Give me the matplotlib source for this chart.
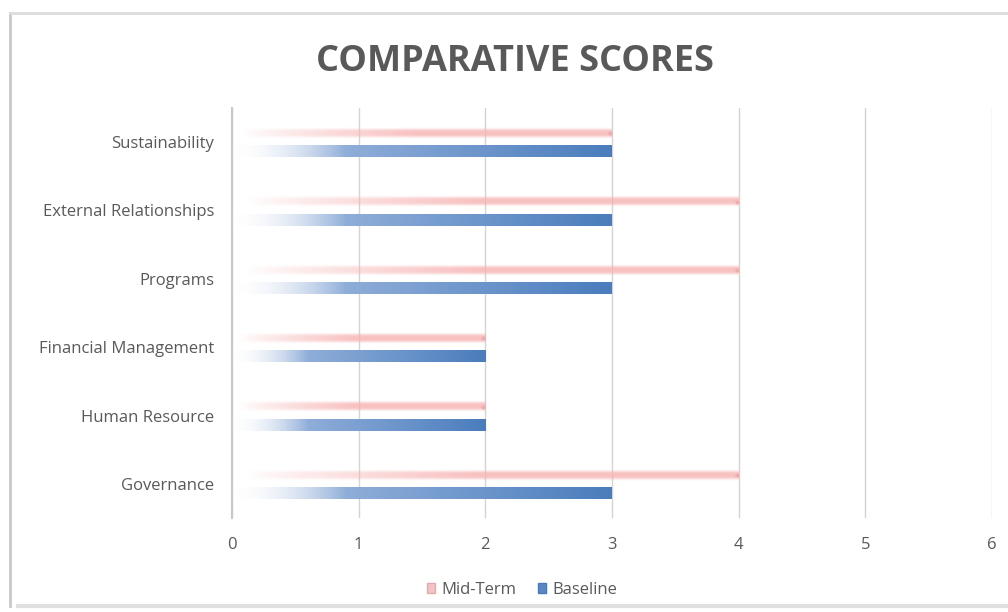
import numpy as np
import matplotlib
matplotlib.use('Agg')
import matplotlib.pyplot as plt
from matplotlib.patches import Patch
from matplotlib.lines import Line2D

plt.rcParams['font.family'] = ['Open Sans', 'DejaVu Sans']

categorias = ['Governance', 'Human Resource', 'Financial Management',
              'Programs', 'External Relationships', 'Sustainability']
midTerm = [4, 2, 2, 4, 4, 3]
baseline = [3, 2, 2, 3, 3, 3]
ticksX = [0, 1, 2, 3, 4, 5, 6]

corTexto = '#595959'
azulFim = np.array([0.29, 0.49, 0.74])
azulMeio = np.array([0.56, 0.68, 0.85])
rosa = np.array([0.97, 0.70, 0.70])


def barra_azul(ax, y, valor, altura):
    n = 300
    t = np.linspace(0, 1, n)
    cor = np.zeros((1, n, 4))
    for k in range(3):
        cor[0, :, k] = np.where(t < 0.3, 1 - (1 - azulMeio[k]) * t / 0.3,
                                azulMeio[k] + (azulFim[k] - azulMeio[k]) * (t - 0.3) / 0.7)
    cor[0, :, 3] = np.clip(t / 0.3, 0, 1) * 0.95 + 0.05
    ax.imshow(cor, extent=(0, valor, y + altura / 2, y - altura / 2),
              aspect='auto', interpolation='bilinear', zorder=3)


def barra_rosa(ax, y, valor, altura):
    n, m = 300, 40
    t = np.linspace(0, 1, n)
    v = np.linspace(-1, 1, m)
    perfil = np.exp(-(v / 0.6) ** 4)
    ramp = np.clip((t - 0.03) / 0.45, 0, 1) ** 0.8
    cor = np.zeros((m, n, 4))
    cor[:, :, 0] = rosa[0]
    cor[:, :, 1] = rosa[1]
    cor[:, :, 2] = rosa[2]
    cor[:, :, 3] = np.outer(perfil, ramp) * 0.8
    ax.imshow(cor, extent=(0, valor, y + altura / 2, y - altura / 2),
              aspect='auto', interpolation='bilinear', zorder=3)
    ax.plot([valor - 0.015], [y], marker='o', ms=3, color='#e9aaaa', mec='none',
            alpha=0.8, zorder=4)


fig = plt.figure(figsize=(10.08, 6.12), dpi=100)
ax = fig.add_axes([232 / 1008, 1 - 518 / 612, 760 / 1008, 410 / 612])

posicoes = np.arange(len(categorias))
for i in posicoes:
    barra_rosa(ax, i + 0.13, midTerm[i], 0.2)
    barra_azul(ax, i - 0.14, baseline[i], 0.165)

ax.set_xlim(0, 6)
ax.set_ylim(-0.5, len(categorias) - 0.5)
ax.set_xticks(ticksX)
ax.set_yticks(posicoes)
ax.set_yticklabels(categorias)
ax.tick_params(length=0, colors=corTexto, labelsize=12)
ax.tick_params(axis='x', pad=14)
ax.tick_params(axis='y', pad=13)
ax.grid(axis='x', color='#d4d4d4', linewidth=1, zorder=0)
ax.set_axisbelow(True)
for s in ['top', 'right', 'bottom']:
    ax.spines[s].set_visible(False)
ax.spines['left'].set_color('#c8c8c8')
ax.spines['left'].set_linewidth(1.5)

fig.text(515 / 1008, 1 - 62 / 612, 'COMPARATIVE SCORES', ha='center', va='center',
         fontsize=26, fontweight='bold', color=corTexto)

# moldura do grafico
fig.add_artist(Line2D([10 / 1008, 10 / 1008], [1 - 13 / 612, 1 - 606 / 612],
                      transform=fig.transFigure, color='#c8c8c8', lw=2))
fig.add_artist(Line2D([10 / 1008, 1], [1 - 13 / 612, 1 - 13 / 612],
                      transform=fig.transFigure, color='#dcdcdc', lw=2))
fig.add_artist(Line2D([18 / 1008, 1], [1 - 606 / 612, 1 - 606 / 612],
                      transform=fig.transFigure, color='#e0e0e0', lw=3))

legenda = [Patch(facecolor='#f4c4c4', edgecolor='#e6a8a8', label='Mid-Term'),
           Patch(facecolor='#5b86c2', edgecolor='#4a78b8', label='Baseline')]
ax.legend(handles=legenda, loc='center', bbox_to_anchor=(522 / 1008, 1 - 590 / 612),
          bbox_transform=fig.transFigure, ncol=2, frameon=False, fontsize=12,
          labelcolor=corTexto, handlelength=0.5, handleheight=0.6, handletextpad=0.35,
          columnspacing=1.3)

fig.savefig('out.png', dpi=100)
